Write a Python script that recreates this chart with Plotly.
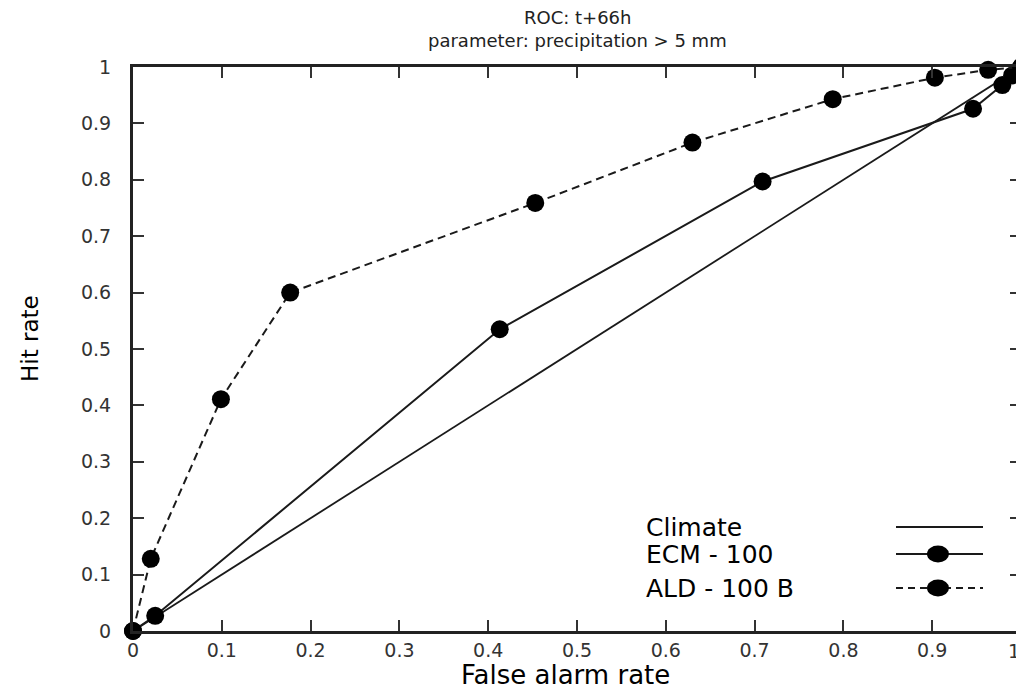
import plotly.graph_objects as go

# ---- data ----
climate_far = [0.0, 1.0]
climate_hr = [0.0, 1.0]

ecm_far = [0.0, 0.025, 0.413, 0.709, 0.946, 0.979, 0.990, 1.0]
ecm_hr = [0.0, 0.027, 0.535, 0.797, 0.926, 0.968, 0.985, 1.0]

ald_far = [0.0, 0.020, 0.099, 0.177, 0.453, 0.630, 0.788, 0.903, 0.963, 1.0]
ald_hr = [0.0, 0.128, 0.411, 0.600, 0.759, 0.866, 0.943, 0.981, 0.995, 1.0]

tick_vals = [i / 10 for i in range(11)]
tick_text = ["0", "0.1", "0.2", "0.3", "0.4", "0.5", "0.6", "0.7", "0.8", "0.9", "1"]

legend_names = ["Climate", "ECM - 100", "ALD - 100 B"]
title_lines = ["ROC: t+66h", "parameter: precipitation > 5 mm"]

FONT = "DejaVu Sans"
INK = "#1a1a1a"

OFF = 8  # page body margin offset
W, H = 1024 - OFF, 691 - OFF
L, R, T, B = 133 - OFF, 3, 67 - OFF, 60
PW, PH = W - L - R, H - T - B


def px2paper(px, py):
    # reference-image pixel -> paper coordinates
    return (px - OFF - L) / PW, (H - B - (py - OFF)) / PH


fig = go.Figure()

fig.add_trace(go.Scatter(x=climate_far, y=climate_hr, mode="lines",
                         line=dict(color=INK, width=1.8),
                         name=legend_names[0], cliponaxis=False, showlegend=False))
fig.add_trace(go.Scatter(x=ecm_far, y=ecm_hr, mode="lines+markers",
                         line=dict(color=INK, width=2),
                         marker=dict(symbol="circle", size=18, color="black"),
                         name=legend_names[1], cliponaxis=False, showlegend=False))
fig.add_trace(go.Scatter(x=ald_far, y=ald_hr, mode="lines+markers",
                         line=dict(color=INK, width=2, dash="8px,5px"),
                         marker=dict(symbol="circle", size=18, color="black"),
                         name=legend_names[2], cliponaxis=False, showlegend=False))

TICKFONT = dict(family=FONT, size=19, color="#333")
axis_common = dict(range=[0, 1], tickvals=tick_vals,
                   showgrid=False, zeroline=False, showline=True, linecolor="#222",
                   linewidth=3, mirror="ticks", ticks="inside", ticklen=11,
                   tickwidth=2, tickcolor="#333", tickfont=TICKFONT)

# last x tick label sits on the page edge: drawn as an annotation so it stays visible
x_tick_text = tick_text[:-1] + [""]
fig.update_xaxes(**axis_common, ticktext=x_tick_text, ticklabelstandoff=0)
fig.update_yaxes(**axis_common, ticktext=tick_text, ticklabelstandoff=15)

shapes = []
annotations = []
lx, ly = px2paper(1022, 651)
annotations.append(dict(text=tick_text[-1], xref="paper", yref="paper", x=lx, y=ly,
                        xanchor="right", yanchor="middle", showarrow=False,
                        font=TICKFONT))

# ---- custom legend (symbols on the right of the labels) ----
leg_y_px = [527, 554, 588]
line_x0, line_x1 = px2paper(896, 0)[0], px2paper(983, 0)[0]
mk_x = px2paper(938, 0)[0]
text_x = px2paper(644, 0)[0]
for i, (name, ypx) in enumerate(zip(legend_names, leg_y_px)):
    yp = px2paper(0, ypx)[1]
    shapes.append(dict(type="line", xref="paper", yref="paper",
                       x0=line_x0, x1=line_x1, y0=yp, y1=yp,
                       line=dict(color=INK, width=2,
                                 dash="solid" if i < 2 else "7px,5px")))
    if i > 0:
        rx, ry = 11 / PW, 8.5 / PH
        shapes.append(dict(type="circle", xref="paper", yref="paper",
                           x0=mk_x - rx, x1=mk_x + rx, y0=yp - ry, y1=yp + ry,
                           fillcolor="black", line=dict(color="black", width=0)))
    annotations.append(dict(text=name, xref="paper", yref="paper", x=text_x, y=yp,
                            xanchor="left", yanchor="middle", showarrow=False,
                            font=dict(family=FONT, size=25, color="black")))

# title lines
for txt, ypx in zip(title_lines, [18, 40]):
    tx, ty = px2paper(577, ypx)
    annotations.append(dict(text=txt, xref="paper", yref="paper", x=tx, y=ty,
                            xanchor="center", yanchor="middle", showarrow=False,
                            font=dict(family=FONT, size=18, color="#222")))

# axis titles
ax_x, ax_y = px2paper(565, 675)
annotations.append(dict(text="False alarm rate", xref="paper", yref="paper",
                        x=ax_x, y=ax_y, xanchor="center", yanchor="middle",
                        showarrow=False, font=dict(family=FONT, size=26, color="black")))
ay_x, ay_y = px2paper(30, 339)
annotations.append(dict(text="Hit rate", xref="paper", yref="paper",
                        x=ay_x, y=ay_y, xanchor="center", yanchor="middle",
                        textangle=-90, showarrow=False,
                        font=dict(family=FONT, size=23, color="black")))

fig.update_layout(
    width=W, height=H,
    margin=dict(l=L, r=R, t=T, b=B, autoexpand=False),
    paper_bgcolor="white", plot_bgcolor="white",
    shapes=shapes, annotations=annotations, showlegend=False,
)

fig.write_html("out.html")
